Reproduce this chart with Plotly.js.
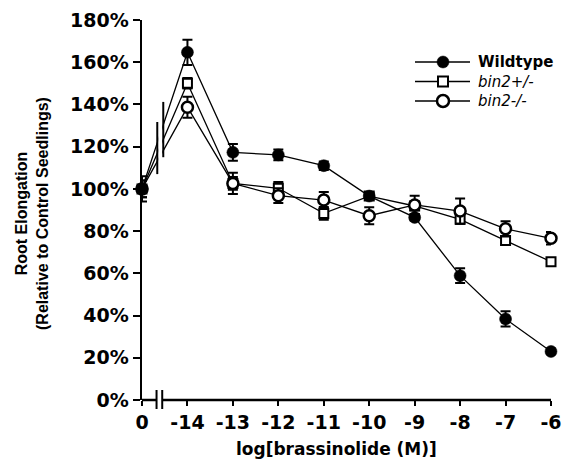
<!DOCTYPE html>
<html><head><meta charset="utf-8">
<script src="https://cdn.plot.ly/plotly-3.0.1.min.js"></script>
<style>html,body{margin:0;padding:0;background:#fff}</style>
</head><body><div id="chart" style="width:564px;height:461px"></div>
<script>
// ---- data ----
const categories = ['0','-14','-13','-12','-11','-10','-9','-8','-7','-6']; // log[brassinolide (M)], '0' = control
const wildtype    = [100, 164.7, 117.3, 116.1, 111.0, 96.6, 86.5, 58.9, 38.4, 23.0];
const wildtypeErr = [6, 6, 4, 2.5, 2, 1.5, 1.5, 3.5, 3.6, 1];
const bin2Het     = [100, 150.0, 102.6, 100.3, 88.4, 96.6, 91.9, 85.6, 75.5, 65.5];
const bin2HetErr  = [4, 2.5, 3, 3, 3, 1.5, 2, 2, 2, 1.5];
const bin2Hom     = [100, 138.7, 102.6, 96.8, 94.7, 87.3, 92.4, 89.5, 81.1, 76.6];
const bin2HomErr  = [4, 5, 5, 3.5, 3.8, 4, 4.3, 6, 3.6, 3];
const yTicks = [0,20,40,60,80,100,120,140,160,180];

// ---- layout geometry ----
const W=564, H=461, L=142, R=13, T=20, B=61;
const plotW = W-L-R, plotH = H-T-B;
// categories placed one unit apart; control sits one step before -14
const xs = categories.map((c,i)=> i - 15);
const xRange = [xs[0], xs[xs.length-1]];
const yRange = [0, 180];
const pxX = px => (px-L)/plotW;
const pxY = py => (H-B-py)/plotH;
const dX = x => (x-xRange[0])/(xRange[1]-xRange[0]);
const FONT = 'Liberation Sans, Arial, sans-serif';
const WIDE = 'DejaVu Sans, Verdana, sans-serif';

function mk(name, y, err, marker){
  return {x: xs, y: y, name: name, type:'scatter', mode:'lines+markers', cliponaxis:false,
    line:{color:'#000', width:1.3}, marker: marker, showlegend:false,
    error_y:{type:'data', array: err, visible:true, color:'#000', thickness:2, width:5}};
}
const traces = [
  mk('bin2+/-', bin2Het, bin2HetErr, {symbol:'square', size:9, color:'#fff', line:{color:'#000', width:2}}),
  mk('bin2-/-', bin2Hom, bin2HomErr, {symbol:'circle', size:11, color:'#fff', line:{color:'#000', width:2.5}}),
  mk('Wildtype', wildtype, wildtypeErr, {symbol:'circle', size:12, color:'#000', line:{color:'#000', width:0.5}})
];

const shapes = [];
// break in the data lines between control and -14
const brk1 = -14.664, brk2 = -14.532;
shapes.push({type:'rect', xref:'x', yref:'y', x0:brk1+0.02, x1:brk2-0.02, y0:100, y1:150, fillcolor:'#fff', line:{width:0}, layer:'above'});
shapes.push({type:'line', xref:'x', yref:'y', x0:brk1, x1:brk1, y0:107, y1:131.7, line:{color:'#000', width:2}, layer:'above'});
shapes.push({type:'line', xref:'x', yref:'y', x0:brk2, x1:brk2, y0:115, y1:141.2, line:{color:'#000', width:2}, layer:'above'});
// broken x axis line
const ab1 = -14.68, ab2 = -14.555;
shapes.push({type:'line', xref:'paper', yref:'paper', x0:dX(xRange[0]), x1:dX(ab1), y0:0, y1:0, line:{color:'#000', width:2.5}});
shapes.push({type:'line', xref:'paper', yref:'paper', x0:dX(ab2), x1:1, y0:0, y1:0, line:{color:'#000', width:2.5}});
[ab1, ab2].forEach(a=> shapes.push({type:'line', xref:'paper', yref:'paper', x0:dX(a), x1:dX(a), y0:pxY(390), y1:pxY(409), line:{color:'#000', width:2}}));

// custom legend
const legRows = [62, 81.5, 101];
const legNames = ['<b>Wildtype</b>', '<i>bin2+/-</i>', '<i>bin2-/-</i>'];
const annotations = [];
legRows.forEach((py,i)=>{
  shapes.push({type:'line', xref:'paper', yref:'paper', x0:pxX(415), x1:pxX(470), y0:pxY(py), y1:pxY(py), line:{color:'#000', width:1.3}});
  annotations.push({xref:'paper', yref:'paper', x:pxX(476), y:pxY(py), xanchor:'left', yanchor:'middle', showarrow:false, text:legNames[i], font:{family:WIDE, size:15, color:'#000'}});
});
const cx = 443;
shapes.push({type:'circle', xref:'paper', yref:'paper', x0:pxX(cx-6), x1:pxX(cx+6), y0:pxY(legRows[0]-6), y1:pxY(legRows[0]+6), fillcolor:'#000', line:{color:'#000', width:0.5}});
shapes.push({type:'rect', xref:'paper', yref:'paper', x0:pxX(cx-5), x1:pxX(cx+5), y0:pxY(legRows[1]-5), y1:pxY(legRows[1]+5), fillcolor:'#fff', line:{color:'#000', width:2}});
shapes.push({type:'circle', xref:'paper', yref:'paper', x0:pxX(cx-6), x1:pxX(cx+6), y0:pxY(legRows[2]-6), y1:pxY(legRows[2]+6), fillcolor:'#fff', line:{color:'#000', width:2.5}});

// axis titles
annotations.push({xref:'paper', yref:'paper', x:pxX(336.5), y:pxY(449), xanchor:'center', yanchor:'middle', showarrow:false,
  text:'<b>log[brassinolide (M)]</b>', font:{family:WIDE, size:17, color:'#000'}});
annotations.push({xref:'paper', yref:'paper', x:pxX(32), y:pxY(213), xanchor:'center', yanchor:'middle', showarrow:false, textangle:-90,
  text:'<b>Root Elongation<br>(Relative to Control Seedlings)</b>', font:{family:FONT, size:16, color:'#000'}});

const layout = {
  width:W, height:H, margin:{l:L, r:R, t:T, b:B, pad:0},
  paper_bgcolor:'#fff', plot_bgcolor:'#fff', showlegend:false,
  font:{family:FONT, color:'#000'},
  xaxis:{range:xRange, tickvals:xs, ticktext:categories, showgrid:false, zeroline:false, showline:false,
    ticks:'outside', ticklen:5, tickwidth:2, tickcolor:'#000',
    tickfont:{family:WIDE, size:19, weight:'bold', color:'#000'}},
  yaxis:{range:yRange, tickvals:yTicks, ticktext:yTicks.map(v=>v+'%'), showgrid:false, zeroline:false,
    showline:true, linewidth:2.5, linecolor:'#000',
    ticks:'outside', ticklen:7, tickwidth:2, tickcolor:'#000',
    tickfont:{family:WIDE, size:19, weight:'bold', color:'#000'}},
  shapes: shapes, annotations: annotations
};
Plotly.newPlot('chart', traces, layout, {displayModeBar:false, staticPlot:true});
</script></body></html>
